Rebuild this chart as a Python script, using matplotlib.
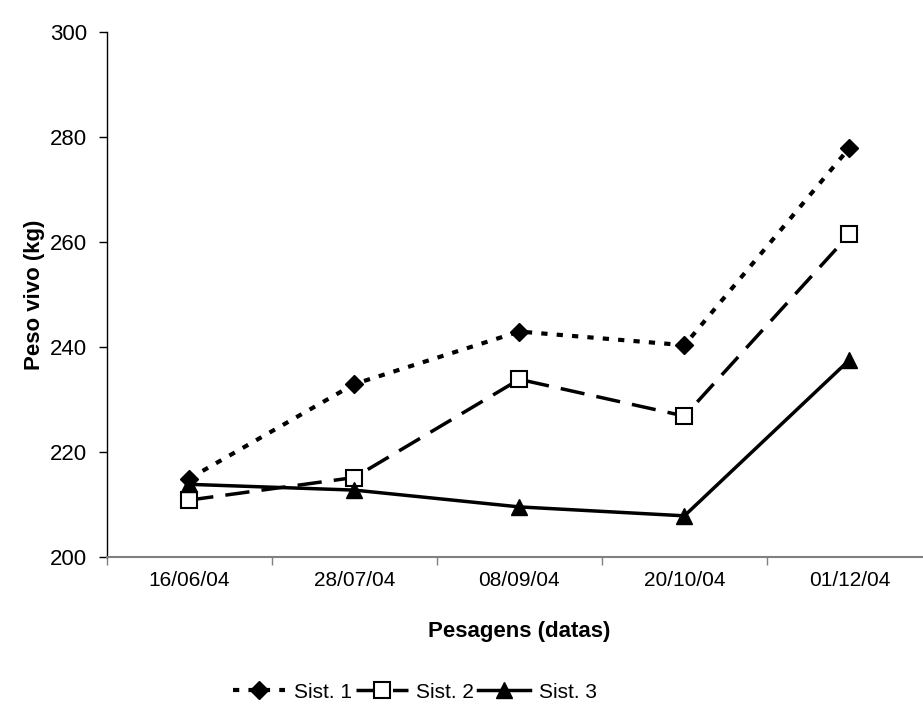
import numpy as np
import matplotlib
matplotlib.use("Agg")
import matplotlib.pyplot as plt

plt.rcParams['font.family'] = ['Liberation Sans', 'DejaVu Sans']

datas = ["16/06/04", "28/07/04", "08/09/04", "20/10/04", "01/12/04"]
sist1 = [215.0, 233.0, 243.0, 240.4, 278.0]
sist2 = [210.9, 215.2, 233.9, 226.9, 261.5]
sist3 = [213.9, 212.8, 209.6, 207.9, 237.6]

fig = plt.figure(figsize=(9.23, 7.11), dpi=100)
ax = fig.add_axes([106.7 / 923, 1 - 557.3 / 711, (932 - 106.7) / 923, (557.3 - 32.3) / 711])

x = np.arange(len(datas))
ax.plot(x, sist1, color='black', lw=3, linestyle=(0, (1.5, 2.2)),
        marker='D', ms=9, mfc='black', mec='black', label='Sist. 1', zorder=3)
ax.plot(x, sist2, color='black', lw=2.5, linestyle=(0, (7, 3.5)),
        marker='s', ms=11, mfc='white', mec='black', mew=1.5, label='Sist. 2', zorder=3)
ax.plot(x, sist3, color='black', lw=2.5, linestyle='-',
        marker='^', ms=12, mfc='black', mec='black', label='Sist. 3', zorder=3)

ax.set_ylim(200, 300)
ax.set_yticks(np.arange(200, 301, 20))
ax.set_xlim(-0.5, len(datas) - 0.5)
ax.set_xticks(np.arange(-0.5, len(datas), 1.0))
ax.set_xticklabels([])
ax.set_xticks(x, minor=True)
ax.set_xticklabels(datas, minor=True, fontsize=15)
ax.tick_params(axis='x', which='minor', length=0, pad=10)
ax.tick_params(axis='x', which='major', length=6, width=1, color='#808080')
ax.tick_params(axis='y', length=6, width=1, labelsize=16, pad=8)

for s in ['top', 'right']:
    ax.spines[s].set_visible(False)
ax.spines['bottom'].set_color('#808080')
ax.spines['bottom'].set_linewidth(1.5)
ax.spines['left'].set_linewidth(1)

ax.set_ylabel("Peso vivo (kg)", fontsize=16, fontweight='bold', labelpad=4)
ax.set_xlabel("Pesagens (datas)", fontsize=16, fontweight='bold', labelpad=22)

fig.legend(loc='center', bbox_to_anchor=(415 / 923, 1 - 692 / 711), ncol=3,
           frameon=False, fontsize=15, handlelength=2.5, columnspacing=0.2,
           handletextpad=0.4, borderaxespad=0)

fig.savefig("out.png", dpi=100)
